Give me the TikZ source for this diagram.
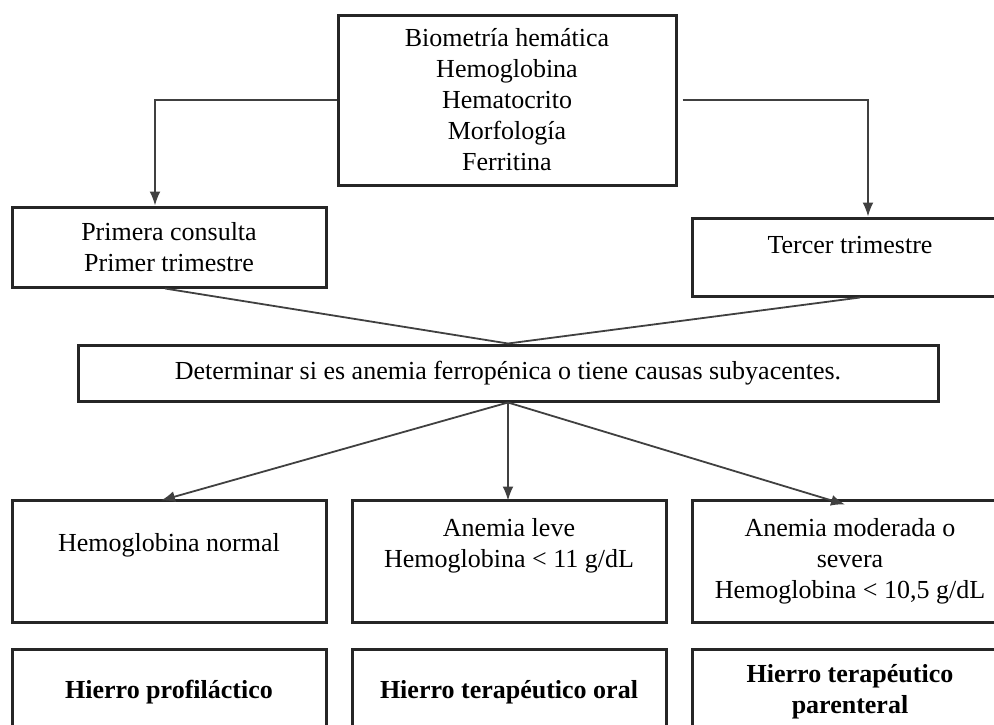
\documentclass[tikz,border=0pt]{standalone}
\usepackage{fontspec}
\setmainfont{Liberation Serif}
\usetikzlibrary{arrows.meta}

\begin{document}
\begin{tikzpicture}[x=1pt,y=-1pt,
    font=\fontsize{26}{31}\selectfont,
    box/.style={draw=black!85, line width=3pt, align=center, inner sep=0pt},
    txt/.style={align=center, inner sep=0pt},
    arr/.style={-{Latex[length=14pt,width=11pt]}, line width=1.8pt, draw=black!75},
    link/.style={line width=1.8pt, draw=black!75}]
    \useasboundingbox (0,0) rectangle (994,724);

    \node[box, minimum width=338pt, minimum height=170pt] (bio) at (507,100)
      {Biometría hemática\\Hemoglobina\\Hematocrito\\Morfología\\Ferritina};
    \node[box, minimum width=314pt, minimum height=80pt] (prim) at (169,247)
      {Primera consulta\\Primer trimestre};
    \node[box, minimum width=316pt, minimum height=78pt] (ter) at (850,257) {};
    \node[txt] (terT) at (850,245) {Tercer trimestre};
    \node[box, minimum width=860pt, minimum height=56pt] (det) at (508,373)
      {Determinar si es anemia ferropénica o tiene causas subyacentes.};

    \node[box, minimum width=314pt, minimum height=122pt] (normal) at (169,561) {};
    \node[txt] (normalT) at (169,545) {Hemoglobina normal};
    \node[box, minimum width=314pt, minimum height=122pt] (leve) at (509,561) {};
    \node[txt] (leveT) at (509,546) {Anemia leve\\Hemoglobina < 11 g/dL};
    \node[box, minimum width=316pt, minimum height=122pt] (severa) at (850,561)
      {Anemia moderada o\\severa\\Hemoglobina < 10,5 g/dL};

    \node[box, minimum width=314pt, minimum height=86pt] (profi) at (169,692)
      {\bfseries Hierro profiláctico};
    \node[box, minimum width=314pt, minimum height=86pt] (oral) at (509,692)
      {\bfseries Hierro terapéutico oral};
    \node[box, minimum width=316pt, minimum height=86pt] (paren) at (850,692)
      {\bfseries Hierro terapéutico\\\bfseries parenteral};

    \draw[arr] (bio.west) -| ([xshift=-14pt]prim.north);
    \draw[arr] ([xshift=5pt]bio.east) -| ([xshift=18pt]ter.north);
    \draw[link] ([xshift=-4pt]prim.south) -- (det.north);
    \draw[link] ([xshift=10pt]ter.south) -- (det.north);
    \draw[arr] (det.south) -- ([xshift=-8pt,yshift=-2pt]normal.north);
    \draw[arr] (det.south) -- ([yshift=-2pt]det.south |- leve.north);
    \draw[arr] (det.south) -- ([xshift=-5pt,yshift=-6pt]severa.north);
\end{tikzpicture}
\end{document}
